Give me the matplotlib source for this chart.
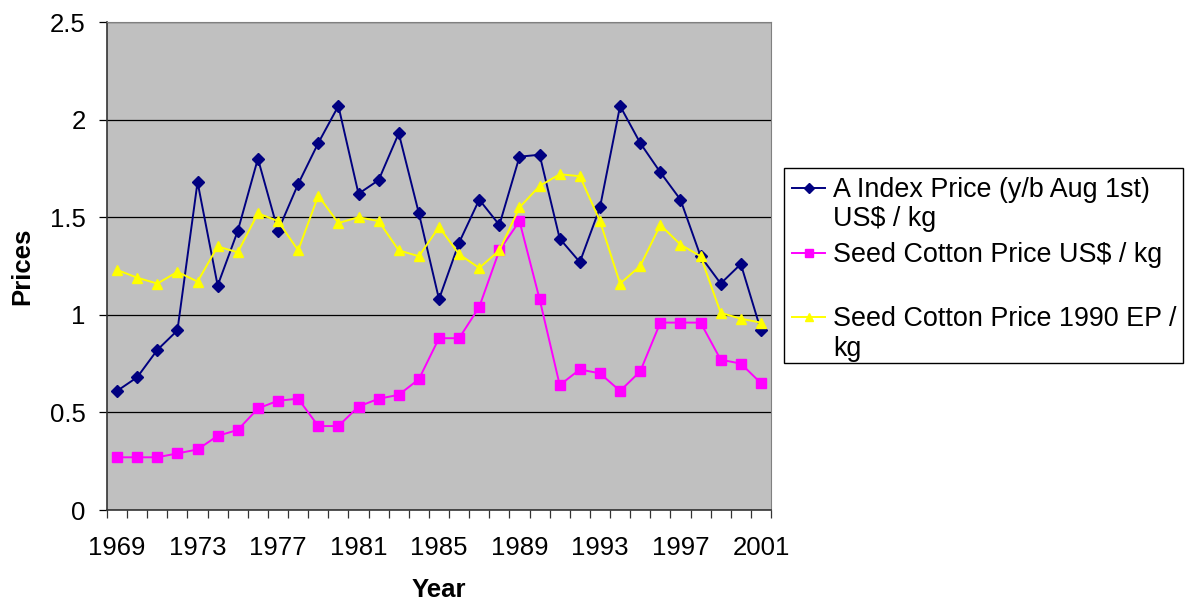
import matplotlib.pyplot as plt
from matplotlib.lines import Line2D
from matplotlib.patches import Rectangle
from matplotlib.ticker import FixedLocator, FuncFormatter
import numpy as np

plt.rcParams['font.family'] = ['Liberation Sans', 'DejaVu Sans']

years = list(range(1969, 2002))

# A Index price (year beginning Aug 1st), US$ / kg
a_index = [0.61, 0.68, 0.82, 0.92, 1.68, 1.15, 1.43, 1.80, 1.43, 1.67,
           1.88, 2.07, 1.62, 1.69, 1.93, 1.52, 1.08, 1.37, 1.59, 1.46,
           1.81, 1.82, 1.39, 1.27, 1.55, 2.07, 1.88, 1.73, 1.59, 1.30,
           1.16, 1.26, 0.92]

# seed cotton price, US$ / kg
seed_usd = [0.27, 0.27, 0.27, 0.29, 0.31, 0.38, 0.41, 0.52, 0.56, 0.57,
            0.43, 0.43, 0.53, 0.57, 0.59, 0.67, 0.88, 0.88, 1.04, 1.33,
            1.48, 1.08, 0.64, 0.72, 0.70, 0.61, 0.71, 0.96, 0.96, 0.96,
            0.77, 0.75, 0.65]

# seed cotton price in 1990 EP / kg
seed_ep = [1.23, 1.19, 1.16, 1.22, 1.17, 1.35, 1.32, 1.52, 1.48, 1.33,
           1.61, 1.47, 1.50, 1.48, 1.33, 1.30, 1.45, 1.31, 1.24, 1.33,
           1.55, 1.66, 1.72, 1.71, 1.48, 1.16, 1.25, 1.46, 1.36, 1.30,
           1.01, 0.98, 0.96]

series = [
    ("A Index Price (y/b Aug 1st)\nUS$ / kg", a_index, '#000080', 'D', 6.3),
    ("Seed Cotton Price US$ / kg", seed_usd, '#FF00FF', 's', 7.2),
    ("Seed Cotton Price 1990 EP /\nkg", seed_ep, '#FFFF00', '^', 7.6),
]

W, H = 1186, 604
fig = plt.figure(figsize=(W / 100, H / 100), dpi=100)
ax = fig.add_axes([107 / W, 94 / H, 664 / W, 488 / H])
ax.set_facecolor('#C0C0C0')

x = np.arange(len(years))
for label, vals, col, mk, ms in series:
    ax.plot(x, vals, color=col, lw=1.4, marker=mk, ms=ms,
            mfc=col, mec=col, label=label)

ax.set_xlim(-0.5, len(years) - 0.5)
ax.set_ylim(0, 2.5)
ax.set_yticks(np.arange(0, 2.51, 0.5))
ax.yaxis.set_major_formatter(FuncFormatter(lambda v, p: '%g' % v))
ax.set_xticks(x[::4])
ax.set_xticklabels([str(y) for y in years[::4]])
ax.xaxis.set_minor_locator(FixedLocator(np.arange(-0.5, len(years), 1)))

ax.tick_params(axis='x', which='major', length=0, pad=19, labelsize=18.5)
ax.tick_params(axis='x', which='minor', length=5.8, width=0.9, color='#333333')
ax.tick_params(axis='y', length=5.8, width=0.9, pad=9.5, labelsize=18.5)

ax.yaxis.grid(True, color='black', lw=0.9)
ax.set_axisbelow(True)
for side in ('top', 'right'):
    ax.spines[side].set_color('#808080')
for side in ('left', 'bottom'):
    ax.spines[side].set_color('#333333')
    ax.spines[side].set_linewidth(1.2)

ax.set_ylabel('Prices', fontsize=18.5, fontweight='bold', labelpad=11)
ax.set_xlabel('Year', fontsize=18.5, fontweight='bold', labelpad=13)


# legend box drawn by hand so markers sit on the first text line
def fx(px):
    return px / W


def fy(py):
    return 1 - py / H


fig.add_artist(Rectangle((fx(784), fy(363)), fx(1183) - fx(784), fy(168) - fy(363),
                         transform=fig.transFigure, fc='white', ec='black', lw=1))
for (label, vals, col, mk, ms), row in zip(series, [197, 262, 326]):
    mid = row - 9
    fig.add_artist(Line2D([fx(792), fx(825)], [fy(mid), fy(mid)], color=col, lw=1.4,
                          transform=fig.transFigure))
    fig.add_artist(Line2D([fx(808.5)], [fy(mid)], color=col, marker=mk, ms=ms * 0.75,
                          mfc=col, mec=col, transform=fig.transFigure))
    for i, line in enumerate(label.split('\n')):
        fig.text(fx(833), fy(row + 29.5 * i), line, fontsize=19.4,
                 va='baseline', ha='left')

fig.savefig('out.png', dpi=100)
